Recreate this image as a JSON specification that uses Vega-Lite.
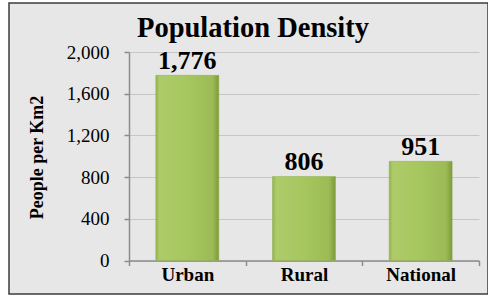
{
  "$schema": "https://vega.github.io/schema/vega-lite/v6.json",
  "width": 479,
  "height": 291,
  "autosize": {"type": "none"},
  "padding": {"left": 9, "top": 3, "right": 0, "bottom": 2},
  "background": "white",
  "title": {
    "text": "Population Density",
    "font": "Liberation Serif",
    "fontSize": 28.5,
    "fontWeight": "bold",
    "color": "black",
    "anchor": "start",
    "frame": "group",
    "orient": "top",
    "baseline": "alphabetic",
    "offset": -33.7,
    "dy": 29,
    "dx": 128
  },
  "data": {
    "values": [
      {"area": "Urban", "density": 1776},
      {"area": "Rural", "density": 806},
      {"area": "National", "density": 951}
    ]
  },
  "encoding": {
    "x": {
      "field": "area",
      "type": "nominal",
      "sort": null,
      "scale": {"range": [120, 470], "paddingInner": 0, "paddingOuter": 0},
      "axis": {
        "orient": "bottom",
        "offset": -33.5,
        "title": null,
        "labelAngle": 0,
        "labelFont": "Liberation Serif",
        "labelFontSize": 19,
        "labelFontWeight": "bold",
        "labelColor": "black",
        "labelPadding": 0,
        "domainColor": "#8c8c8c",
        "domainWidth": 1.5,
        "tickColor": "#8c8c8c",
        "tickWidth": 1.5,
        "tickSize": 5,
        "tickBand": "extent",
        "grid": false
      }
    },
    "y": {
      "field": "density",
      "type": "quantitative",
      "scale": {"domain": [0, 2000], "range": [257.5, 49], "nice": false, "zero": true},
      "axis": {
        "orient": "left",
        "offset": -120,
        "values": [0, 400, 800, 1200, 1600, 2000],
        "format": ",.0f",
        "title": "People per Km2",
        "titleFont": "Liberation Serif",
        "titleFontSize": 18,
        "titleFontWeight": "bold",
        "titleColor": "black",
        "titlePadding": 20,
        "titleY": 154,
        "labelFont": "Liberation Serif",
        "labelFontSize": 19,
        "labelColor": "black",
        "labelPadding": 15,
        "domainColor": "#8c8c8c",
        "domainWidth": 1.5,
        "tickColor": "#8c8c8c",
        "tickWidth": 1.5,
        "tickSize": 5,
        "grid": true,
        "gridColor": "#c6c6c6",
        "gridWidth": 1
      }
    }
  },
  "layer": [
    {
      "mark": {
        "type": "bar",
        "width": {"band": 0.54},
        "fill": {
          "gradient": "linear",
          "x1": 0, "x2": 1, "y1": 0, "y2": 0,
          "stops": [
            {"offset": 0, "color": "#94b44e"},
            {"offset": 0.06, "color": "#aecb6a"},
            {"offset": 0.5, "color": "#a6c65e"},
            {"offset": 0.9, "color": "#9cbb55"},
            {"offset": 1, "color": "#7c9a3a"}
          ]
        },
        "stroke": "#8fae4a",
        "strokeWidth": 0.5
      }
    },
    {
      "mark": {
        "type": "text",
        "font": "Liberation Serif",
        "fontSize": 26,
        "fontWeight": "bold",
        "color": "black",
        "baseline": "alphabetic",
        "dy": -6.5
      },
      "encoding": {
        "text": {"field": "density", "type": "quantitative", "format": ","}
      }
    }
  ],
  "config": {
    "view": {"fill": "#e7e7e7", "stroke": "#3c3c3c", "strokeWidth": 1.5}
  }
}
